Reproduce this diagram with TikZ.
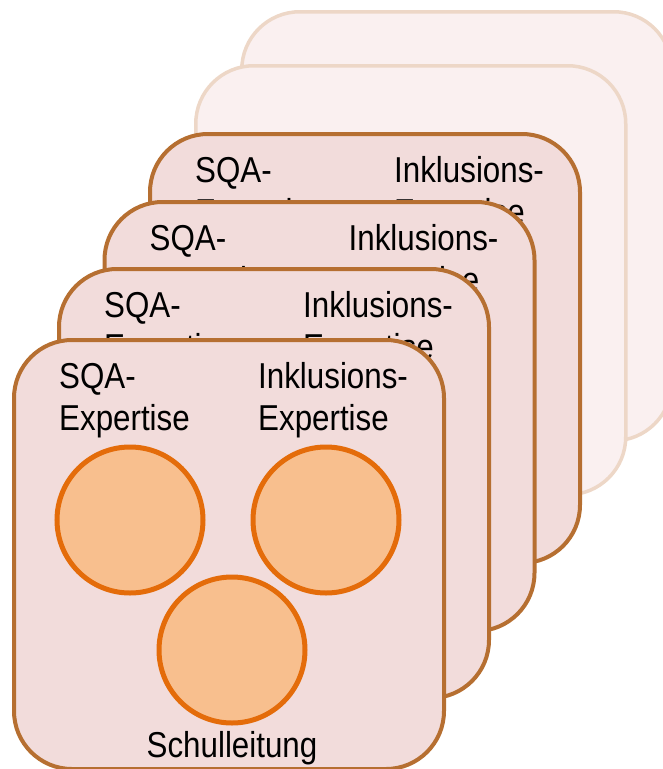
\documentclass[tikz,border=0pt]{standalone}
\usepackage{fontspec}
\setmainfont{Liberation Sans}[FakeStretch=0.87]
\definecolor{cardfill}{HTML}{F2DCDB}
\definecolor{cardline}{HTML}{B66F31}
\definecolor{fadefill}{HTML}{FAF0F0}
\definecolor{fadeline}{HTML}{EDD7C7}
\definecolor{circfill}{HTML}{F8BF8E}
\definecolor{circline}{HTML}{E46C0A}
\tikzset{
  card/.style={rectangle, rounded corners=58pt, draw=cardline, fill=cardfill, line width=4pt,
    minimum width=430pt, minimum height=429pt, anchor=north west, inner sep=0pt},
  fadecard/.style={card, draw=fadeline, fill=fadefill, line width=3.5pt},
  member/.style={circle, draw=circline, fill=circfill, line width=5pt, minimum size=146pt, inner sep=0pt},
  lbl/.style={anchor=base west, align=left, inner sep=0pt, font=\fontsize{36}{42}\selectfont}
}
\begin{document}
\begin{tikzpicture}[x=1pt,y=-1pt]
\useasboundingbox (0,0) rectangle (663,769);
% faded back cards
\node[fadecard] (c6) at (240,10) {};
\node[fadecard] (c5) at (194,64) {};
% brown cards back to front
\node[card] (c4) at (148,132) {};
\node[lbl] (s4) at ([xshift=47pt,yshift=-92pt]c4.north west) {SQA-\\Expertise};
\node[lbl] (i4) at ([xshift=246pt,yshift=-92pt]c4.north west) {Inklusions-\\Expertise};
\node[card] (c3) at (102.5,200) {};
\node[lbl] (s3) at ([xshift=47pt,yshift=-92pt]c3.north west) {SQA-\\Expertise};
\node[lbl] (i3) at ([xshift=246pt,yshift=-92pt]c3.north west) {Inklusions-\\Expertise};
\node[card] (c2) at (57,267) {};
\node[lbl] (s2) at ([xshift=47pt,yshift=-92pt]c2.north west) {SQA-\\Expertise};
\node[lbl] (i2) at ([xshift=246pt,yshift=-92pt]c2.north west) {Inklusions-\\Expertise};
\node[card] (c1) at (12,338) {};
\node[lbl] (s1) at ([xshift=47pt,yshift=-92pt]c1.north west) {SQA-\\Expertise};
\node[lbl] (i1) at ([xshift=246pt,yshift=-92pt]c1.north west) {Inklusions-\\Expertise};
% members
\node[member] (m1) at (130,520) {};
\node[member] (m2) at (326,520) {};
\node[member] (m3) at (232,650) {};
\node[anchor=base, inner sep=0pt, font=\fontsize{36}{42}\selectfont] (sl) at (232,757) {Schulleitung};
\end{tikzpicture}
\end{document}
